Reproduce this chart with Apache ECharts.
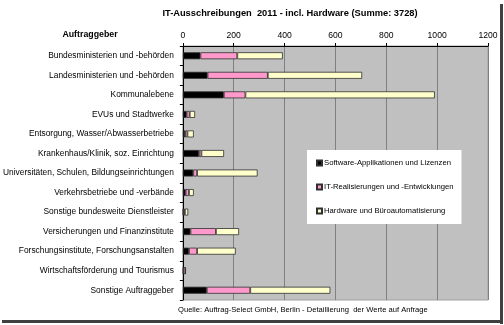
<!DOCTYPE html>
<html><head><meta charset="utf-8">
<script src="https://cdn.jsdelivr.net/npm/echarts@6/dist/echarts.min.js"></script>
<style>html,body{margin:0;padding:0;background:#fff}#c{width:504px;height:325px}</style>
</head><body><div id="c"></div>
<script>
const categories = [
  "Bundesministerien und -behörden",
  "Landesministerien und -behörden",
  "Kommunalebene",
  "EVUs und Stadtwerke",
  "Entsorgung, Wasser/Abwasserbetriebe",
  "Krankenhaus/Klinik, soz. Einrichtung",
  "Universitäten, Schulen, Bildungseinrichtungen",
  "Verkehrsbetriebe und -verbände",
  "Sonstige bundesweite Dienstleister",
  "Versicherungen und Finanzinstitute",
  "Forschungsinstitute, Forschungsanstalten",
  "Wirtschaftsförderung und Tourismus",
  "Sonstige Auftraggeber"
];
const seriesNames = [
  "Software-Applikationen und Lizenzen",
  "IT-Realisierungen und -Entwicklungen",
  "Hardware und Büroautomatisierung"
];
const software = [69, 97, 161, 15, 9, 63, 41, 11, 2, 30, 24, 2, 94];
const realisierung = [145, 237, 85, 12, 9, 10, 15, 13, 6, 100, 32, 8, 171];
const hardware = [179, 371, 745, 21, 25, 89, 238, 19, 13, 91, 152, 1, 315];
const xTicks = [0, 200, 400, 600, 800, 1000, 1200];
const title = "IT-Ausschreibungen  2011 - incl. Hardware (Summe: 3728)";
const source = "Quelle: Auftrag-Select GmbH, Berlin - Detaillierung  der Werte auf Anfrage";

const colors = ["#000000", "#ff99cc", "#ffffcc"];
const dataSets = [software, realisierung, hardware];
const FONT = "Liberation Sans, Arial, sans-serif";

const chart = echarts.init(document.getElementById('c'), null, {renderer: 'canvas'});
chart.setOption({
  animation: false,
  backgroundColor: '#ffffff',
  textStyle: {fontFamily: FONT},
  grid: {left: 181, right: 16, top: 46, bottom: 25, show: true, backgroundColor: '#c0c0c0', borderColor: '#a0a0a0', borderWidth: 1},
  graphic: [
    {type: 'text', x: 290, y: 9, style: {text: title, textAlign: 'center', fontFamily: FONT, fontSize: 9.3, fontWeight: 'bold', fill: '#000'}},
    {type: 'text', x: 90, y: 30, style: {text: 'Auftraggeber', textAlign: 'center', fontFamily: FONT, fontSize: 8.8, fontWeight: 'bold', fill: '#000'}},
    {type: 'text', x: 178, y: 306, style: {text: source, fontFamily: FONT, fontSize: 7.6, fill: '#000'}},
    {type: 'rect', shape: {x: 500, y: 4, width: 3, height: 320}, style: {fill: '#404040'}, z: 10},
    {type: 'rect', shape: {x: 2, y: 320, width: 501, height: 3}, style: {fill: '#404040'}, z: 10}
  ],
  legend: {
    data: seriesNames,
    orient: 'vertical',
    left: 307, top: 150,
    backgroundColor: '#ffffff',
    padding: [9, 8, 9, 9],
    itemGap: 16,
    itemWidth: 5, itemHeight: 5,
    icon: 'rect',
    textStyle: {fontFamily: FONT, fontSize: 7.7, color: '#000', padding: [0, 0, 0, -3]},
    selectedMode: false
  },
  xAxis: {
    type: 'value', position: 'top', min: 0, max: 1200, interval: 200,
    axisLine: {show: true, lineStyle: {color: '#000', width: 1}},
    axisTick: {show: true, length: 3, lineStyle: {color: '#000'}},
    axisLabel: {fontFamily: FONT, fontSize: 8.6, color: '#000', margin: 6,
      formatter: v => xTicks.includes(v) ? String(v) : ''},
    splitLine: {show: true, lineStyle: {color: '#808080', width: 1}}
  },
  yAxis: {
    type: 'category', inverse: true, data: categories,
    axisLine: {show: true, lineStyle: {color: '#000', width: 1}},
    axisTick: {show: true, length: 3, lineStyle: {color: '#000'}},
    axisLabel: {fontFamily: FONT, fontSize: 8.4, color: '#000', margin: 9}
  },
  series: dataSets.map((d, i) => ({
    name: seriesNames[i], type: 'bar', stack: 'total', data: d,
    barWidth: 7,
    itemStyle: {color: colors[i], borderColor: '#303030', borderWidth: 0.8}
  }))
});
</script></body></html>
